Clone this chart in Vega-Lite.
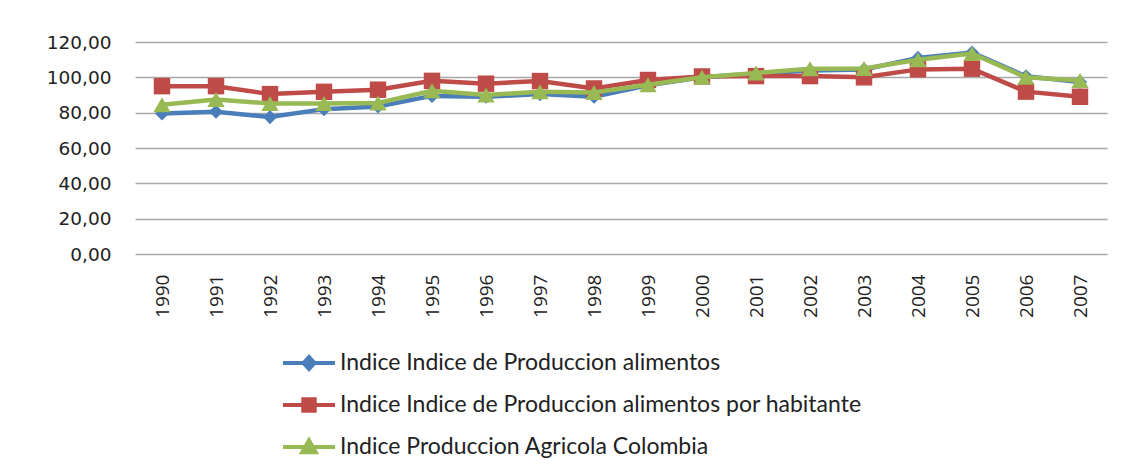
{
  "$schema": "https://vega.github.io/schema/vega-lite/v6.json",
  "width": 972,
  "height": 212,
  "autosize": {"type": "none"},
  "padding": {"left": 135, "top": 42, "right": 18, "bottom": 214},
  "background": "white",
  "config": {
    "locale": {"number": {"decimal": ",", "thousands": ".", "grouping": [3], "currency": ["", " €"]}},
    "view": {"stroke": null}
  },
  "data": {"values": [
    {"series": "Indice Indice de Produccion alimentos", "year": "1990", "value": 79.5},
    {"series": "Indice Indice de Produccion alimentos", "year": "1991", "value": 80.5},
    {"series": "Indice Indice de Produccion alimentos", "year": "1992", "value": 77.5},
    {"series": "Indice Indice de Produccion alimentos", "year": "1993", "value": 82},
    {"series": "Indice Indice de Produccion alimentos", "year": "1994", "value": 83.5},
    {"series": "Indice Indice de Produccion alimentos", "year": "1995", "value": 89.5},
    {"series": "Indice Indice de Produccion alimentos", "year": "1996", "value": 89},
    {"series": "Indice Indice de Produccion alimentos", "year": "1997", "value": 90.5},
    {"series": "Indice Indice de Produccion alimentos", "year": "1998", "value": 89},
    {"series": "Indice Indice de Produccion alimentos", "year": "1999", "value": 95.5},
    {"series": "Indice Indice de Produccion alimentos", "year": "2000", "value": 100},
    {"series": "Indice Indice de Produccion alimentos", "year": "2001", "value": 102},
    {"series": "Indice Indice de Produccion alimentos", "year": "2002", "value": 103.8},
    {"series": "Indice Indice de Produccion alimentos", "year": "2003", "value": 104.5},
    {"series": "Indice Indice de Produccion alimentos", "year": "2004", "value": 111},
    {"series": "Indice Indice de Produccion alimentos", "year": "2005", "value": 114},
    {"series": "Indice Indice de Produccion alimentos", "year": "2006", "value": 100.6},
    {"series": "Indice Indice de Produccion alimentos", "year": "2007", "value": 97.4},
    {"series": "Indice Indice de Produccion alimentos por habitante", "year": "1990", "value": 95},
    {"series": "Indice Indice de Produccion alimentos por habitante", "year": "1991", "value": 95},
    {"series": "Indice Indice de Produccion alimentos por habitante", "year": "1992", "value": 90.5},
    {"series": "Indice Indice de Produccion alimentos por habitante", "year": "1993", "value": 91.8},
    {"series": "Indice Indice de Produccion alimentos por habitante", "year": "1994", "value": 93},
    {"series": "Indice Indice de Produccion alimentos por habitante", "year": "1995", "value": 98},
    {"series": "Indice Indice de Produccion alimentos por habitante", "year": "1996", "value": 96.4},
    {"series": "Indice Indice de Produccion alimentos por habitante", "year": "1997", "value": 97.9},
    {"series": "Indice Indice de Produccion alimentos por habitante", "year": "1998", "value": 93.7},
    {"series": "Indice Indice de Produccion alimentos por habitante", "year": "1999", "value": 98.5},
    {"series": "Indice Indice de Produccion alimentos por habitante", "year": "2000", "value": 100.5},
    {"series": "Indice Indice de Produccion alimentos por habitante", "year": "2001", "value": 100.7},
    {"series": "Indice Indice de Produccion alimentos por habitante", "year": "2002", "value": 100.7},
    {"series": "Indice Indice de Produccion alimentos por habitante", "year": "2003", "value": 100},
    {"series": "Indice Indice de Produccion alimentos por habitante", "year": "2004", "value": 104.5},
    {"series": "Indice Indice de Produccion alimentos por habitante", "year": "2005", "value": 104.9},
    {"series": "Indice Indice de Produccion alimentos por habitante", "year": "2006", "value": 91.9},
    {"series": "Indice Indice de Produccion alimentos por habitante", "year": "2007", "value": 89},
    {"series": "Indice Produccion Agricola Colombia", "year": "1990", "value": 84.5},
    {"series": "Indice Produccion Agricola Colombia", "year": "1991", "value": 87.5},
    {"series": "Indice Produccion Agricola Colombia", "year": "1992", "value": 85.2},
    {"series": "Indice Produccion Agricola Colombia", "year": "1993", "value": 85.2},
    {"series": "Indice Produccion Agricola Colombia", "year": "1994", "value": 85.5},
    {"series": "Indice Produccion Agricola Colombia", "year": "1995", "value": 92.4},
    {"series": "Indice Produccion Agricola Colombia", "year": "1996", "value": 90},
    {"series": "Indice Produccion Agricola Colombia", "year": "1997", "value": 91.8},
    {"series": "Indice Produccion Agricola Colombia", "year": "1998", "value": 91.4},
    {"series": "Indice Produccion Agricola Colombia", "year": "1999", "value": 95.8},
    {"series": "Indice Produccion Agricola Colombia", "year": "2000", "value": 100},
    {"series": "Indice Produccion Agricola Colombia", "year": "2001", "value": 102.5},
    {"series": "Indice Produccion Agricola Colombia", "year": "2002", "value": 104.8},
    {"series": "Indice Produccion Agricola Colombia", "year": "2003", "value": 105},
    {"series": "Indice Produccion Agricola Colombia", "year": "2004", "value": 110},
    {"series": "Indice Produccion Agricola Colombia", "year": "2005", "value": 113.5},
    {"series": "Indice Produccion Agricola Colombia", "year": "2006", "value": 100},
    {"series": "Indice Produccion Agricola Colombia", "year": "2007", "value": 98.2}
  ]},
  "encoding": {
    "x": {
      "field": "year", "type": "ordinal",
      "scale": {"type": "point", "padding": 0.5},
      "axis": {"title": null, "labelAngle": -90, "ticks": false, "domain": false, "grid": false, "labelPadding": 20,
               "labelFont": "Open Sans", "labelFontSize": 19, "labelColor": "#222222"}
    },
    "y": {
      "field": "value", "type": "quantitative",
      "scale": {"domain": [0, 120], "nice": false, "zero": true},
      "axis": {"title": null, "values": [0, 20, 40, 60, 80, 100, 120], "format": ".2f", "ticks": false, "domain": false,
               "grid": true, "gridColor": "#a8a8a8", "gridWidth": 1.5, "labelPadding": 24,
               "labelFont": "DejaVu Sans", "labelFontSize": 18.5, "labelColor": "#222222"}
    }
  },
  "layer": [
    {
      "transform": [{"filter": "datum.series == 'Indice Indice de Produccion alimentos'"}],
      "mark": {"type": "line", "strokeWidth": 4.5, "color": "#4A7EBB", "point": {"filled": true, "shape": "diamond", "size": 200, "opacity": 1, "color": "#4A7EBB"}},
      "encoding": {}
    },
    {
      "transform": [{"filter": "datum.series == 'Indice Indice de Produccion alimentos por habitante'"}],
      "mark": {"type": "line", "strokeWidth": 4.5, "color": "#BE4B48", "point": {"filled": true, "shape": "square", "size": 270, "opacity": 1, "color": "#BE4B48"}},
      "encoding": {}
    },
    {
      "transform": [{"filter": "datum.series == 'Indice Produccion Agricola Colombia'"}],
      "mark": {"type": "line", "strokeWidth": 4.5, "color": "#98B954", "point": {"filled": true, "shape": "triangle-up", "size": 300, "opacity": 1, "color": "#98B954"}},
      "encoding": {}
    },
    {
      "mark": {"type": "point", "filled": true, "opacity": 0},
      "encoding": {
        "color": {"field": "series", "type": "nominal",
                  "scale": {"domain": ["Indice Indice de Produccion alimentos", "Indice Indice de Produccion alimentos por habitante", "Indice Produccion Agricola Colombia"],
                            "range": ["#4A7EBB", "#BE4B48", "#98B954"]},
                  "legend": {"title": null, "orient": "none", "legendX": 146, "legendY": 293, "direction": "vertical",
                             "symbolSize": 2704, "symbolStrokeWidth": 4, "symbolOpacity": 1, "labelOffset": 3,
                             "labelFont": "Lato", "labelFontSize": 23, "labelColor": "#222222", "labelLimit": 800,
                             "rowPadding": -4, "padding": 0}},
        "stroke": {"field": "series", "type": "nominal",
                   "scale": {"domain": ["Indice Indice de Produccion alimentos", "Indice Indice de Produccion alimentos por habitante", "Indice Produccion Agricola Colombia"],
                             "range": ["#4A7EBB", "#BE4B48", "#98B954"]},
                   "legend": {"title": null, "orient": "none", "legendX": 146, "legendY": 293, "direction": "vertical",
                             "symbolSize": 2704, "symbolStrokeWidth": 4, "symbolOpacity": 1, "labelOffset": 3,
                             "labelFont": "Lato", "labelFontSize": 23, "labelColor": "#222222", "labelLimit": 800,
                             "rowPadding": -4, "padding": 0}},
        "shape": {"field": "series", "type": "nominal",
                  "scale": {"domain": ["Indice Indice de Produccion alimentos", "Indice Indice de Produccion alimentos por habitante", "Indice Produccion Agricola Colombia"],
                            "range": ["M-1,0L1,0M-0.21,0L0,-0.23L0.21,0L0,0.23Z", "M-1,0L1,0M-0.22,-0.22L0.22,-0.22L0.22,0.22L-0.22,0.22Z", "M-1,0L1,0M-0.26,0.2L0,-0.26L0.26,0.2Z"]},
                  "legend": {"title": null, "orient": "none", "legendX": 146, "legendY": 293, "direction": "vertical",
                             "symbolSize": 2704, "symbolStrokeWidth": 4, "symbolOpacity": 1, "labelOffset": 3,
                             "labelFont": "Lato", "labelFontSize": 23, "labelColor": "#222222", "labelLimit": 800,
                             "rowPadding": -4, "padding": 0}}
      }
    }
  ]
}
